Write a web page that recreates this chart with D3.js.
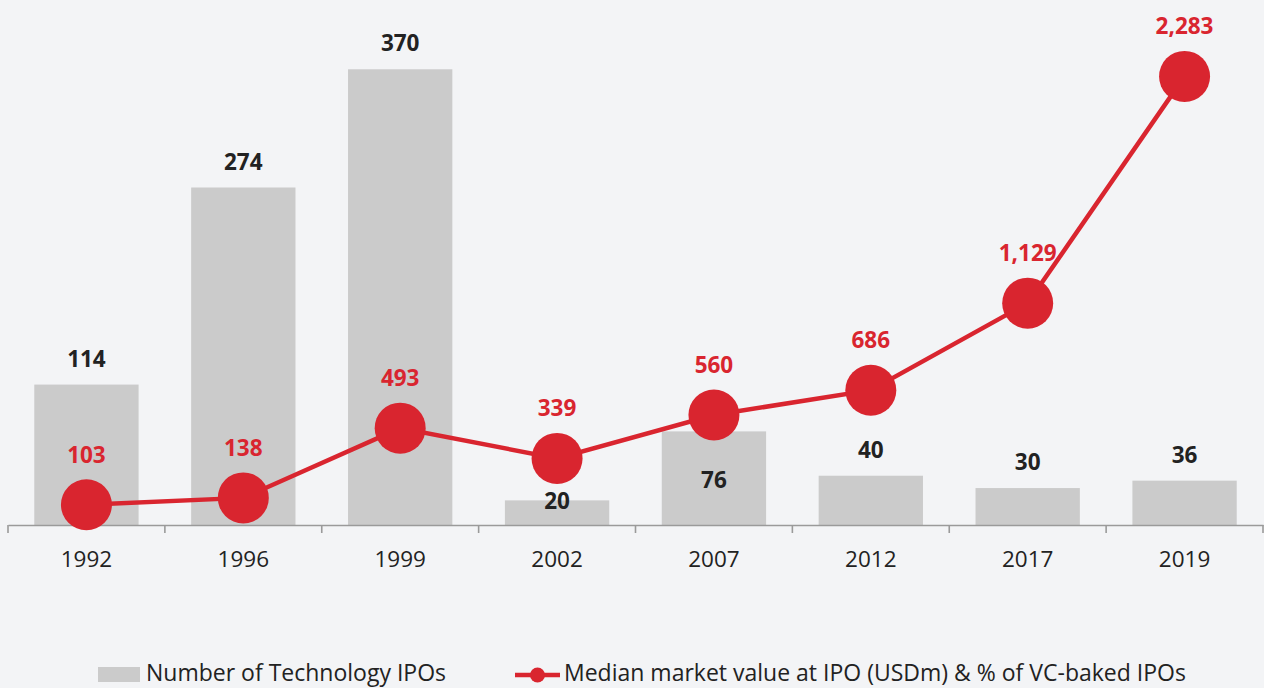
<!DOCTYPE html>
<html><head><meta charset="utf-8">
<script src="https://cdn.jsdelivr.net/npm/d3@7"></script>
<style>
html,body{margin:0;padding:0;background:#f3f4f6;overflow:hidden}
svg{display:block;font-family:"Open Sans",sans-serif}
</style></head>
<body><svg id="c" width="1264" height="688"></svg>
<script>
const years = ["1992","1996","1999","2002","2007","2012","2017","2019"];
const ipoCounts = [114,274,370,20,76,40,30,36];
const medianValues = [103,138,493,339,560,686,1129,2283];
const legendLabels = ["Number of Technology IPOs","Median market value at IPO (USDm) & % of VC-baked IPOs"];

(function(){
const svg = d3.select("#c");
const W=1264,H=688;
svg.append("rect").attr("width",W).attr("height",H).attr("fill","#f3f4f6");

const left=8,right=1263,plotTop=20,base=525;
const x = d3.scaleBand().domain(years).range([left,right]).padding(0);
const yBar = d3.scaleLinear().domain([0,410]).range([base,plotTop]);
const yLine = d3.scaleLinear().domain([0,2570]).range([base,plotTop]);
const barW = x.bandwidth()*0.665;
const R = 25.5;
const red="#d9252f", gray="#cbcbcb", dark="#222";

// bars
svg.append("g").selectAll("rect").data(years).join("rect")
  .attr("x",d=>x(d)+x.bandwidth()/2-barW/2)
  .attr("y",(d,i)=>yBar(ipoCounts[i]))
  .attr("width",barW)
  .attr("height",(d,i)=>base-yBar(ipoCounts[i]))
  .attr("fill",gray);

// axis
const ax = svg.append("g").attr("transform",`translate(0,${base})`)
  .call(d3.axisBottom(x).tickSize(0).tickPadding(26));
ax.select(".domain").attr("stroke","#9a9a9a").attr("stroke-width",1.6);
ax.selectAll("text").attr("font-size",22.5).attr("fill",dark).attr("font-family","'Open Sans',sans-serif");
const bounds = years.map(d=>x(d)).concat([x(years[years.length-1])+x.bandwidth()]);
svg.append("g").selectAll("line").data(bounds).join("line")
  .attr("x1",d=>d).attr("x2",d=>d).attr("y1",base).attr("y2",base+8)
  .attr("stroke","#9a9a9a").attr("stroke-width",1.6);

// line
const cx = d=>x(d)+x.bandwidth()/2;
svg.append("path").datum(years)
  .attr("d",d3.line().x(cx).y((d,i)=>yLine(medianValues[i])))
  .attr("fill","none").attr("stroke",red).attr("stroke-width",4.5);
svg.append("g").selectAll("circle").data(years).join("circle")
  .attr("cx",cx).attr("cy",(d,i)=>yLine(medianValues[i])).attr("r",R).attr("fill",red);

// bar labels
const fmt = d3.format(",");
svg.append("g").selectAll("text").data(years).join("text")
  .attr("x",cx)
  .attr("y",(d,i)=>{
    const bt = yBar(ipoCounts[i]);
    const my = yLine(medianValues[i]);
    const above = bt-18;
    if (above-16 < my+R && above > my-R-8) {
      return (my+R+base)/2 + 5;
    }
    return above;
  })
  .attr("text-anchor","middle").attr("font-size",22.5).attr("font-weight",700).attr("fill",dark)
  .text((d,i)=>fmt(ipoCounts[i]));

// line labels
svg.append("g").selectAll("text").data(years).join("text")
  .attr("x",cx).attr("y",(d,i)=>yLine(medianValues[i])-42)
  .attr("text-anchor","middle").attr("font-size",22.5).attr("font-weight",700).attr("fill",red)
  .text((d,i)=>fmt(medianValues[i]));

// legend
const lg = svg.append("g");
lg.append("rect").attr("x",98).attr("y",667).attr("width",42).attr("height",15).attr("fill",gray);
lg.append("text").attr("x",146).attr("y",681).attr("font-size",23).attr("fill",dark).text(legendLabels[0]);
lg.append("line").attr("x1",515).attr("x2",560).attr("y1",675).attr("y2",675).attr("stroke",red).attr("stroke-width",4.5);
lg.append("circle").attr("cx",537.5).attr("cy",675).attr("r",7.5).attr("fill",red);
lg.append("text").attr("x",564).attr("y",681).attr("font-size",23).attr("fill",dark).text(legendLabels[1]);
})();
</script></body></html>
